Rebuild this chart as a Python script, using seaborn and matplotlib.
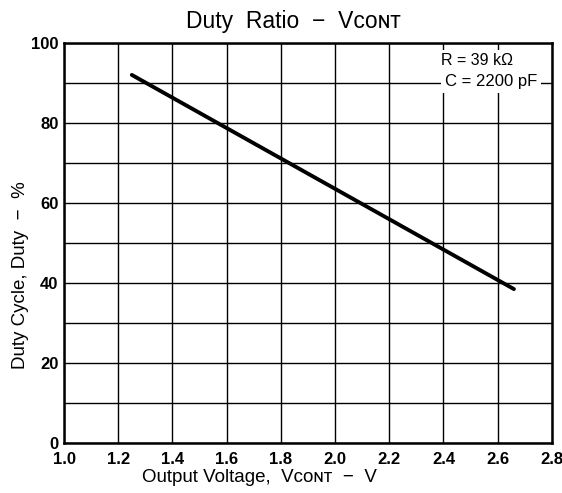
import matplotlib
matplotlib.use("Agg")
import matplotlib.pyplot as plt
import seaborn as sns
import pandas as pd
import numpy as np

# Data
voltage = [1.25, 2.66]
duty = [92.0, 38.5]
x_ticks = [1.0, 1.2, 1.4, 1.6, 1.8, 2.0, 2.2, 2.4, 2.6, 2.8]
x_tick_labels = ["1.0", "1.2", "1.4", "1.6", "1.8", "2.0", "2.2", "2.4", "2.6", "2.8"]
y_ticks = [0, 20, 40, 60, 80, 100]
y_grid = [10, 30, 50, 70, 90]

sns.set_theme(style="white")
plt.rcParams['font.family'] = ['Liberation Sans', 'DejaVu Sans']

fig = plt.figure(figsize=(5.62, 4.93), dpi=100)
ax = fig.add_axes([0.114, 0.101, 0.868, 0.812])

df = pd.DataFrame({"V": voltage, "D": duty})
sns.lineplot(data=df, x="V", y="D", ax=ax, color="black", linewidth=2.8)

ax.set_xlim(1.0, 2.8)
ax.set_ylim(0, 100)
ax.set_xticks(x_ticks)
ax.set_xticklabels(x_tick_labels)
ax.set_yticks(y_ticks)
ax.set_yticks(y_grid, minor=True)
ax.grid(True, which="both", color="black", linewidth=1.0)
ax.tick_params(axis="both", which="both", length=0, labelsize=12, colors="black")
for lbl in ax.get_xticklabels() + ax.get_yticklabels():
    lbl.set_fontweight("bold")
ax.tick_params(axis="x", pad=6)
ax.tick_params(axis="y", pad=4)
for s in ax.spines.values():
    s.set_color("black")
    s.set_linewidth(1.8)

ax.set_xlabel("Output Voltage,  V\u1d04\u1d0f\u0274\u1d1b  \u2212  V", fontsize=13.5, color="black", labelpad=3)
ax.xaxis.set_label_coords(0.40, -0.065)
ax.set_ylabel("Duty Cycle, Duty  \u2212  %", fontsize=13.5, color="black", labelpad=8)
ax.yaxis.set_label_coords(-0.072, 0.42)
ax.set_title("Duty  Ratio  \u2212  V\u1d04\u1d0f\u0274\u1d1b", fontsize=16.5, color="black", x=0.47, pad=11)

ax.text(2.525, 95.5, "R = 39 k\u03a9", fontsize=11.5, ha="center", va="center", zorder=5,
        color="black", bbox=dict(facecolor="white", edgecolor="none", pad=2.5))
ax.text(2.575, 90.3, "C = 2200 pF", fontsize=12, ha="center", va="center", zorder=5,
        color="black", bbox=dict(facecolor="white", edgecolor="none", pad=2.5))

fig.savefig("out.png", dpi=100)
